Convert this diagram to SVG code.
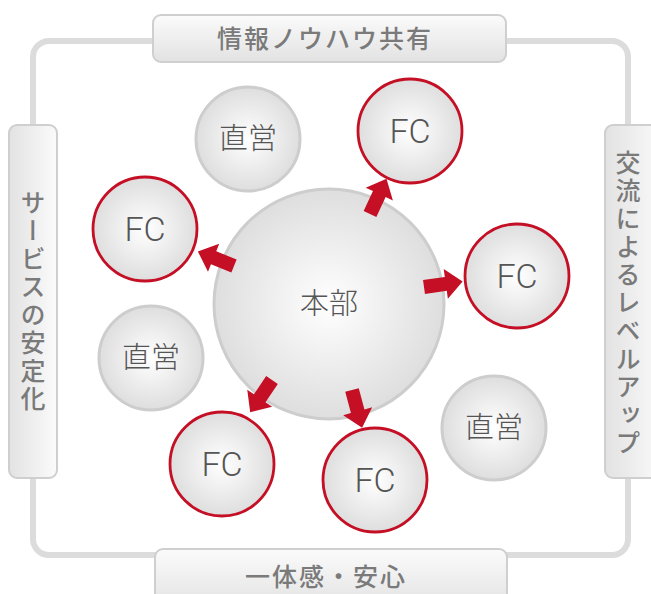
<svg xmlns="http://www.w3.org/2000/svg" width="651" height="594" viewBox="0 0 651 594">
<style>
.frame{fill:none;stroke:#dcdcdc;stroke-width:6}
.box{stroke:#cfcfcf;stroke-width:2}
.lbl{font-family:"Noto Sans CJK JP",sans-serif;font-size:25px;font-weight:500;fill:#7a7a7a;letter-spacing:2px}
.vlbl{font-family:"Noto Sans CJK JP",sans-serif;font-size:25px;font-weight:500;fill:#7a7a7a;writing-mode:vertical-rl;letter-spacing:3px}
.gc{fill:url(#cg);stroke:#cdcdcd;stroke-width:3}
.rc{fill:url(#cg);stroke:#c40f25;stroke-width:2.8}
.jt{font-family:"Noto Sans CJK JP",sans-serif;font-size:29px;font-weight:300;fill:#555}
.ft{font-family:Roboto,sans-serif;font-weight:300;font-size:34px;fill:#555}
.arr{fill:#c40f25}
</style>
<defs>
<radialGradient id="cg" cx="0.5" cy="0.5" r="0.5">
<stop offset="0" stop-color="#ffffff"/>
<stop offset="1" stop-color="#dedede"/>
</radialGradient>
<linearGradient id="hg" x1="0" y1="0" x2="0" y2="1">
<stop offset="0" stop-color="#fbfbfb"/>
<stop offset="1" stop-color="#e2e2e2"/>
</linearGradient>
<linearGradient id="vg" x1="0" y1="0" x2="1" y2="0">
<stop offset="0" stop-color="#e2e2e2"/>
<stop offset="1" stop-color="#fbfbfb"/>
</linearGradient>
<path id="ar" d="M0,-7 L22,-7 L22,-15 L39,0 L22,15 L22,7 L0,7 Z"/>
</defs>
<rect width="651" height="594" fill="#fff"/>
<rect class="frame" x="33" y="41" width="595" height="514" rx="16"/>
<g id="label-top">
<rect class="box" x="153" y="15" width="353" height="47" rx="8" fill="url(#hg)"/>
<text class="lbl" x="325" y="48" text-anchor="middle">情報ノウハウ共有</text>
</g>
<g id="label-bottom">
<rect class="box" x="155" y="549" width="352" height="60" rx="8" fill="url(#hg)"/>
<text class="lbl" x="326" y="586" text-anchor="middle">一体感・安心</text>
</g>
<g id="label-left">
<rect class="box" x="9" y="125" width="48" height="353" rx="8" fill="url(#vg)"/>
<text class="vlbl" x="33" y="302" text-anchor="middle">サービスの安定化</text>
</g>
<g id="label-right">
<rect class="box" x="605" y="125" width="60" height="353" rx="8" fill="url(#vg)"/>
<text class="vlbl" x="628" y="304" text-anchor="middle">交流によるレベルアップ</text>
</g>
<g id="honbu">
<circle class="gc" cx="329" cy="304" r="115"/>
<text class="jt" x="329" y="314" text-anchor="middle">本部</text>
</g>
<g id="chokuei-1">
<circle class="gc" cx="248" cy="139" r="52"/>
<text class="jt" x="248" y="149" text-anchor="middle">直営</text>
</g>
<g id="chokuei-2">
<circle class="gc" cx="151" cy="358" r="52"/>
<text class="jt" x="151" y="368" text-anchor="middle">直営</text>
</g>
<g id="chokuei-3">
<circle class="gc" cx="494" cy="428" r="52"/>
<text class="jt" x="494" y="438" text-anchor="middle">直営</text>
</g>
<g id="fc-1">
<circle class="rc" cx="410" cy="131" r="52"/>
<text class="ft" x="410" y="143" text-anchor="middle">FC</text>
</g>
<g id="fc-2">
<circle class="rc" cx="145" cy="229" r="52"/>
<text class="ft" x="145" y="241" text-anchor="middle">FC</text>
</g>
<g id="fc-3">
<circle class="rc" cx="517" cy="276" r="52"/>
<text class="ft" x="517" y="288" text-anchor="middle">FC</text>
</g>
<g id="fc-4">
<circle class="rc" cx="222" cy="464" r="52"/>
<text class="ft" x="222" y="476" text-anchor="middle">FC</text>
</g>
<g id="fc-5">
<circle class="rc" cx="375" cy="480" r="52"/>
<text class="ft" x="375" y="492" text-anchor="middle">FC</text>
</g>
<g id="connectors" class="arr">
<use href="#ar" transform="translate(370,214) rotate(-65)"/>
<use href="#ar" transform="translate(234,266) rotate(202)"/>
<use href="#ar" transform="translate(424,287) rotate(-8)"/>
<use href="#ar" transform="translate(272,380) rotate(124)"/>
<use href="#ar" transform="translate(352,390) rotate(75)"/>
</g>
</svg>
